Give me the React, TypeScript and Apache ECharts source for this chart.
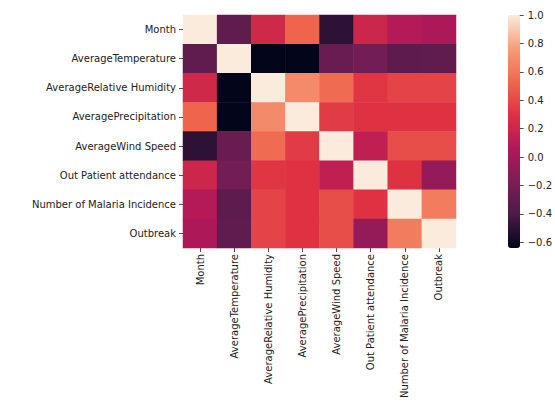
import React, { useEffect, useRef } from "react";
import * as echarts from "echarts";

const labels = [
  "Month",
  "AverageTemperature",
  "AverageRelative Humidity",
  "AveragePrecipitation",
  "AverageWind Speed",
  "Out Patient attendance",
  "Number of Malaria Incidence",
  "Outbreak",
];

// correlation matrix rows (symmetric)
const rowMonth = [1.0, -0.3, 0.22, 0.52, -0.5, 0.2, 0.08, 0.04];
const rowTemp = [-0.3, 1.0, -0.64, -0.64, -0.27, -0.22, -0.32, -0.3];
const rowHumidity = [0.22, -0.64, 1.0, 0.68, 0.55, 0.32, 0.38, 0.38];
const rowPrecip = [0.52, -0.64, 0.68, 1.0, 0.34, 0.3, 0.3, 0.3];
const rowWind = [-0.5, -0.27, 0.55, 0.34, 1.0, 0.14, 0.42, 0.42];
const rowOPD = [0.2, -0.22, 0.32, 0.3, 0.14, 1.0, 0.3, -0.07];
const rowMalaria = [0.08, -0.32, 0.38, 0.3, 0.42, 0.3, 1.0, 0.62];
const rowOutbreak = [0.04, -0.3, 0.38, 0.3, 0.42, -0.07, 0.62, 1.0];

const matrix = [rowMonth, rowTemp, rowHumidity, rowPrecip, rowWind, rowOPD, rowMalaria, rowOutbreak];

const colorbarTicks = [-0.6, -0.4, -0.2, 0.0, 0.2, 0.4, 0.6, 0.8, 1.0];
const vMin = -0.64;
const vMax = 1.0;

const rocket = ["#03051A", "#4A1B47", "#7D1D57", "#B11858", "#DE3143", "#EF674E", "#F59E79", "#FAEBDD"];

export default function App() {
  const ref = useRef<HTMLDivElement>(null);
  useEffect(() => {
    document.body.style.margin = "0";
    const chart = echarts.init(ref.current!, null, { renderer: "svg" });
    const data: number[][] = [];
    matrix.forEach((row, y) => row.forEach((v, x) => data.push([x, y, v])));
    const font = "DejaVu Sans";
    chart.setOption({
      animation: false,
      backgroundColor: "#ffffff",
      textStyle: { fontFamily: font },
      grid: [
        { left: 183, top: 15, width: 273, height: 233 },
        { left: 508, top: 15, width: 12, height: 233 },
      ],
      xAxis: [
        {
          type: "category",
          gridIndex: 0,
          data: labels,
          axisLine: { show: false },
          axisTick: { show: true, alignWithLabel: true, length: 4, lineStyle: { color: "#222", width: 0.8 } },
          axisLabel: { rotate: 90, fontSize: 10, color: "#222", margin: 6, fontFamily: font, interval: 0 },
          splitLine: { show: false },
        },
        {
          type: "category",
          gridIndex: 1,
          data: ["c"],
          show: false,
        },
      ],
      yAxis: [
        {
          type: "category",
          gridIndex: 0,
          inverse: true,
          data: labels,
          axisLine: { show: false },
          axisTick: { show: true, alignWithLabel: true, length: 4, lineStyle: { color: "#222", width: 0.8 } },
          axisLabel: { fontSize: 10, color: "#222", margin: 7, fontFamily: font, interval: 0 },
          splitLine: { show: false },
        },
        {
          type: "value",
          gridIndex: 1,
          position: "right",
          min: vMin,
          max: vMax,
          axisLine: { show: false },
          splitLine: { show: false },
          axisTick: {
            show: true,
            length: 4,
            customValues: colorbarTicks,
            lineStyle: { color: "#222", width: 0.8 },
          },
          axisLabel: {
            fontSize: 10,
            color: "#222",
            margin: 8,
            fontFamily: font,
            customValues: colorbarTicks,
            formatter: (v: number) => v.toFixed(1).replace("-", "\u2212"),
          },
        },
      ],
      visualMap: {
        type: "continuous",
        min: vMin,
        max: vMax,
        seriesIndex: 0,
        orient: "vertical",
        left: 508,
        top: 15,
        itemWidth: 12,
        itemHeight: 233,
        padding: 0,
        calculable: false,
        hoverLink: false,
        inRange: { color: rocket },
      },
      series: [
        {
          type: "heatmap",
          xAxisIndex: 0,
          yAxisIndex: 0,
          data,
          emphasis: { disabled: true },
          itemStyle: { borderWidth: 0 },
        },
      ],
    });
    return () => chart.dispose();
  }, []);
  return <div ref={ref} style={{ width: 555, height: 416 }} />;
}
